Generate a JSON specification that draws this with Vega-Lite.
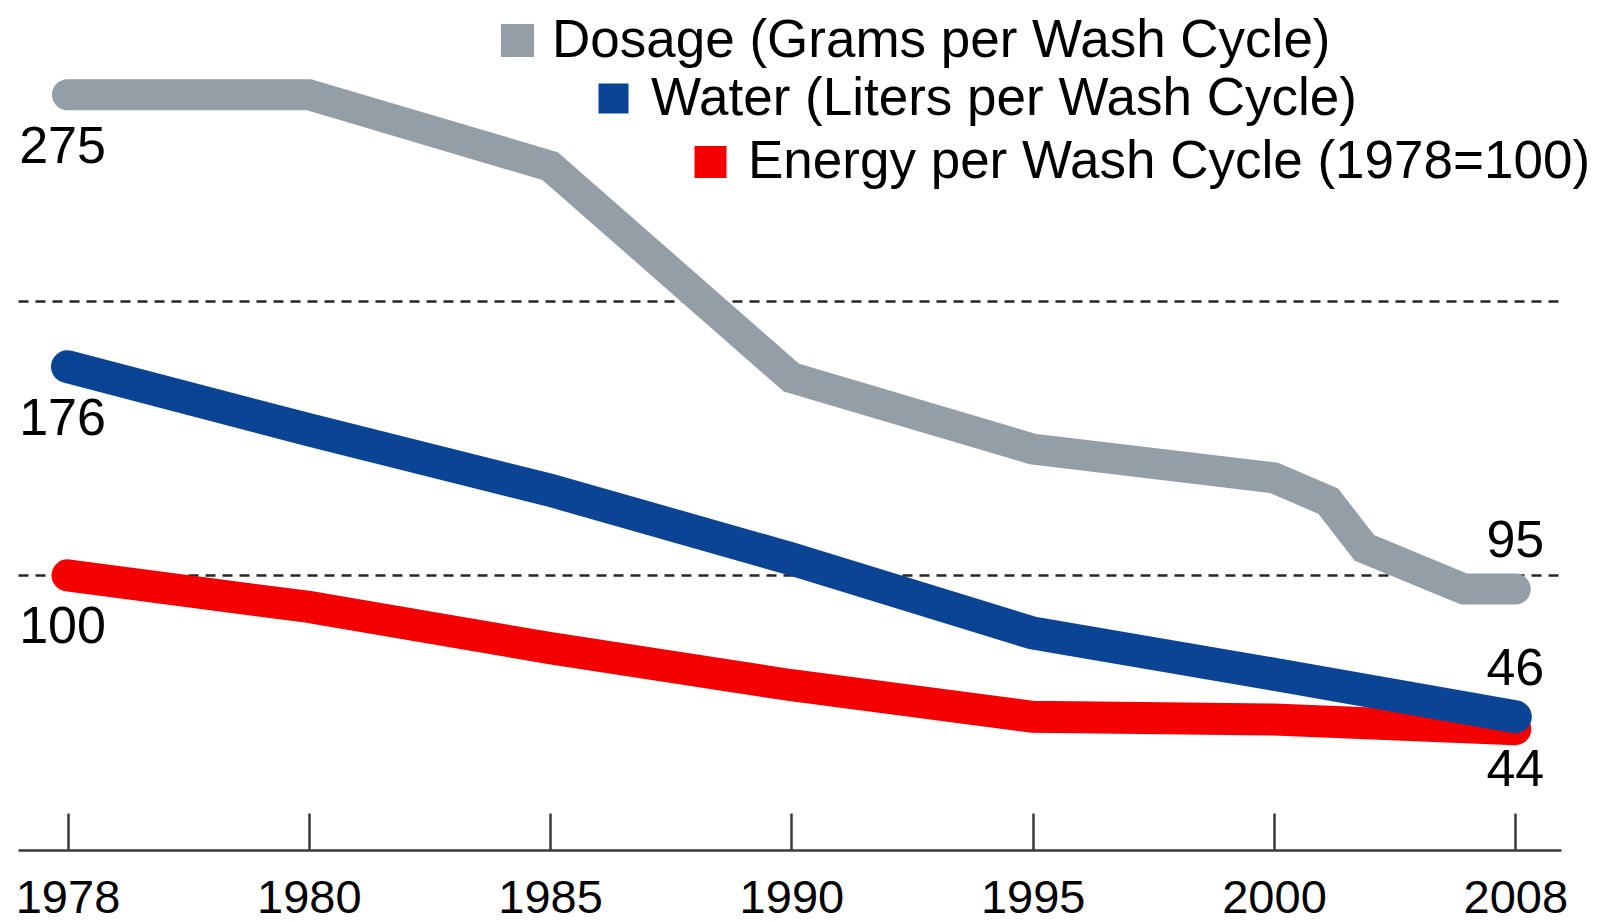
{
  "$schema": "https://vega.github.io/schema/vega-lite/v6.json",
  "autosize": "none",
  "width": 1543,
  "height": 850,
  "padding": {"left": 18, "top": 0, "right": 42, "bottom": 72},
  "background": "white",
  "config": {"view": {"stroke": null}, "font": "Liberation Sans"},
  "data": {
    "values": [
      {"series": "Dosage (Grams per Wash Cycle)", "year": 1978, "value": 275, "label": "275", "side": "left"},
      {"series": "Dosage (Grams per Wash Cycle)", "year": 1980, "value": 275},
      {"series": "Dosage (Grams per Wash Cycle)", "year": 1985, "value": 249},
      {"series": "Dosage (Grams per Wash Cycle)", "year": 1990, "value": 172},
      {"series": "Dosage (Grams per Wash Cycle)", "year": 1995, "value": 146},
      {"series": "Dosage (Grams per Wash Cycle)", "year": 2000, "value": 135.5},
      {"series": "Dosage (Grams per Wash Cycle)", "year": 2001.8, "value": 127},
      {"series": "Dosage (Grams per Wash Cycle)", "year": 2003, "value": 110},
      {"series": "Dosage (Grams per Wash Cycle)", "year": 2006.3, "value": 95},
      {"series": "Dosage (Grams per Wash Cycle)", "year": 2008, "value": 95, "label": "95", "side": "above"},
      {"series": "Water (Liters per Wash Cycle)", "year": 1978, "value": 176, "label": "176", "side": "left"},
      {"series": "Water (Liters per Wash Cycle)", "year": 1980, "value": 153},
      {"series": "Water (Liters per Wash Cycle)", "year": 1985, "value": 131},
      {"series": "Water (Liters per Wash Cycle)", "year": 1990, "value": 106},
      {"series": "Water (Liters per Wash Cycle)", "year": 1995, "value": 79},
      {"series": "Water (Liters per Wash Cycle)", "year": 2000, "value": 64},
      {"series": "Water (Liters per Wash Cycle)", "year": 2008, "value": 48.5, "label": "46", "side": "above"},
      {"series": "Energy per Wash Cycle (1978=100)", "year": 1978, "value": 100, "label": "100", "side": "left"},
      {"series": "Energy per Wash Cycle (1978=100)", "year": 1980, "value": 88.5},
      {"series": "Energy per Wash Cycle (1978=100)", "year": 1985, "value": 73.5},
      {"series": "Energy per Wash Cycle (1978=100)", "year": 1990, "value": 60},
      {"series": "Energy per Wash Cycle (1978=100)", "year": 1995, "value": 48.5},
      {"series": "Energy per Wash Cycle (1978=100)", "year": 2000, "value": 47.5},
      {"series": "Energy per Wash Cycle (1978=100)", "year": 2008, "value": 44, "label": "44", "side": "below"}
    ]
  },
  "encoding": {
    "x": {
      "field": "year",
      "type": "quantitative",
      "scale": {
        "domain": [1977.59, 1978, 1980, 1985, 1990, 1995, 2000, 2008, 2009.515],
        "range": [0, 49.5, 290.8, 532.1, 773.4, 1014.7, 1256, 1497.3, 1543],
        "nice": false,
        "zero": false
      },
      "axis": {
        "values": [1978, 1980, 1985, 1990, 1995, 2000, 2008],
        "format": "d",
        "title": null,
        "grid": false,
        "domainColor": "#3a3a3a",
        "domainWidth": 2.5,
        "tickColor": "#3a3a3a",
        "tickWidth": 2.5,
        "tickSize": -37,
        "labelPadding": 62,
        "labelFontSize": 47,
        "labelFont": "Liberation Sans",
        "labelColor": "black",
        "labelFlush": false,
        "labelOverlap": false
      }
    },
    "y": {
      "field": "value",
      "type": "quantitative",
      "scale": {"domain": [0, 309.5], "nice": false, "zero": true},
      "axis": {
        "values": [100, 200],
        "title": null,
        "labels": false,
        "ticks": false,
        "domain": false,
        "grid": true,
        "gridColor": "#262626",
        "gridWidth": 2.3,
        "gridDash": [10, 7]
      }
    }
  },
  "layer": [
    {
      "transform": [{"filter": "datum.series === 'Dosage (Grams per Wash Cycle)'"}],
      "mark": {"type": "line", "strokeWidth": 31, "strokeCap": "round", "strokeJoin": "miter"},
      "encoding": {
        "color": {
          "field": "series",
          "type": "nominal",
          "scale": {"domain": ["Dosage (Grams per Wash Cycle)"], "range": ["#939ea6"]},
          "legend": {
            "orient": "none",
            "legendX": 473,
            "legendY": 14,
            "title": null,
            "symbolType": "square",
            "symbolSize": 1089,
            "symbolFillColor": "#939ea6",
            "symbolStrokeWidth": 0,
            "labelFontSize": 53,
            "labelFont": "Liberation Sans",
            "labelColor": "black",
            "labelLimit": 1500,
            "labelOffset": 8
          }
        }
      }
    },
    {
      "transform": [{"filter": "datum.series === 'Energy per Wash Cycle (1978=100)'"}],
      "mark": {"type": "line", "strokeWidth": 32, "strokeCap": "round", "strokeJoin": "miter"},
      "encoding": {
        "color": {
          "field": "series",
          "type": "nominal",
          "scale": {"domain": ["Energy per Wash Cycle (1978=100)"], "range": ["#f50000"]},
          "legend": {
            "orient": "none",
            "legendX": 666,
            "legendY": 135.5,
            "title": null,
            "symbolType": "square",
            "symbolSize": 1024,
            "symbolFillColor": "#f50000",
            "symbolStrokeWidth": 0,
            "labelFontSize": 53,
            "labelFont": "Liberation Sans",
            "labelColor": "black",
            "labelLimit": 1500,
            "labelOffset": 11
          }
        }
      }
    },
    {
      "transform": [{"filter": "datum.series === 'Water (Liters per Wash Cycle)'"}],
      "mark": {"type": "line", "strokeWidth": 33, "strokeCap": "round", "strokeJoin": "miter"},
      "encoding": {
        "color": {
          "field": "series",
          "type": "nominal",
          "scale": {"domain": ["Water (Liters per Wash Cycle)"], "range": ["#0b4494"]},
          "legend": {
            "orient": "none",
            "legendX": 569,
            "legendY": 72,
            "title": null,
            "symbolType": "square",
            "symbolSize": 900,
            "symbolFillColor": "#0b4494",
            "symbolStrokeWidth": 0,
            "labelFontSize": 53,
            "labelFont": "Liberation Sans",
            "labelColor": "black",
            "labelLimit": 1500,
            "labelOffset": 11
          }
        }
      }
    },
    {
      "transform": [{"filter": "datum.side === 'left'"}],
      "mark": {"type": "text", "fontSize": 52, "font": "Liberation Sans", "color": "black", "align": "center", "baseline": "middle", "dy": 52, "dx": -5},
      "encoding": {"text": {"field": "label", "type": "nominal"}}
    },
    {
      "transform": [{"filter": "datum.side === 'above'"}],
      "mark": {"type": "text", "fontSize": 52, "font": "Liberation Sans", "color": "black", "align": "center", "baseline": "middle", "dy": -48},
      "encoding": {"text": {"field": "label", "type": "nominal"}}
    },
    {
      "transform": [{"filter": "datum.side === 'below'"}],
      "mark": {"type": "text", "fontSize": 52, "font": "Liberation Sans", "color": "black", "align": "center", "baseline": "middle", "dy": 41},
      "encoding": {"text": {"field": "label", "type": "nominal"}}
    }
  ],
  "resolve": {"scale": {"color": "independent"}, "legend": {"color": "independent"}}
}
